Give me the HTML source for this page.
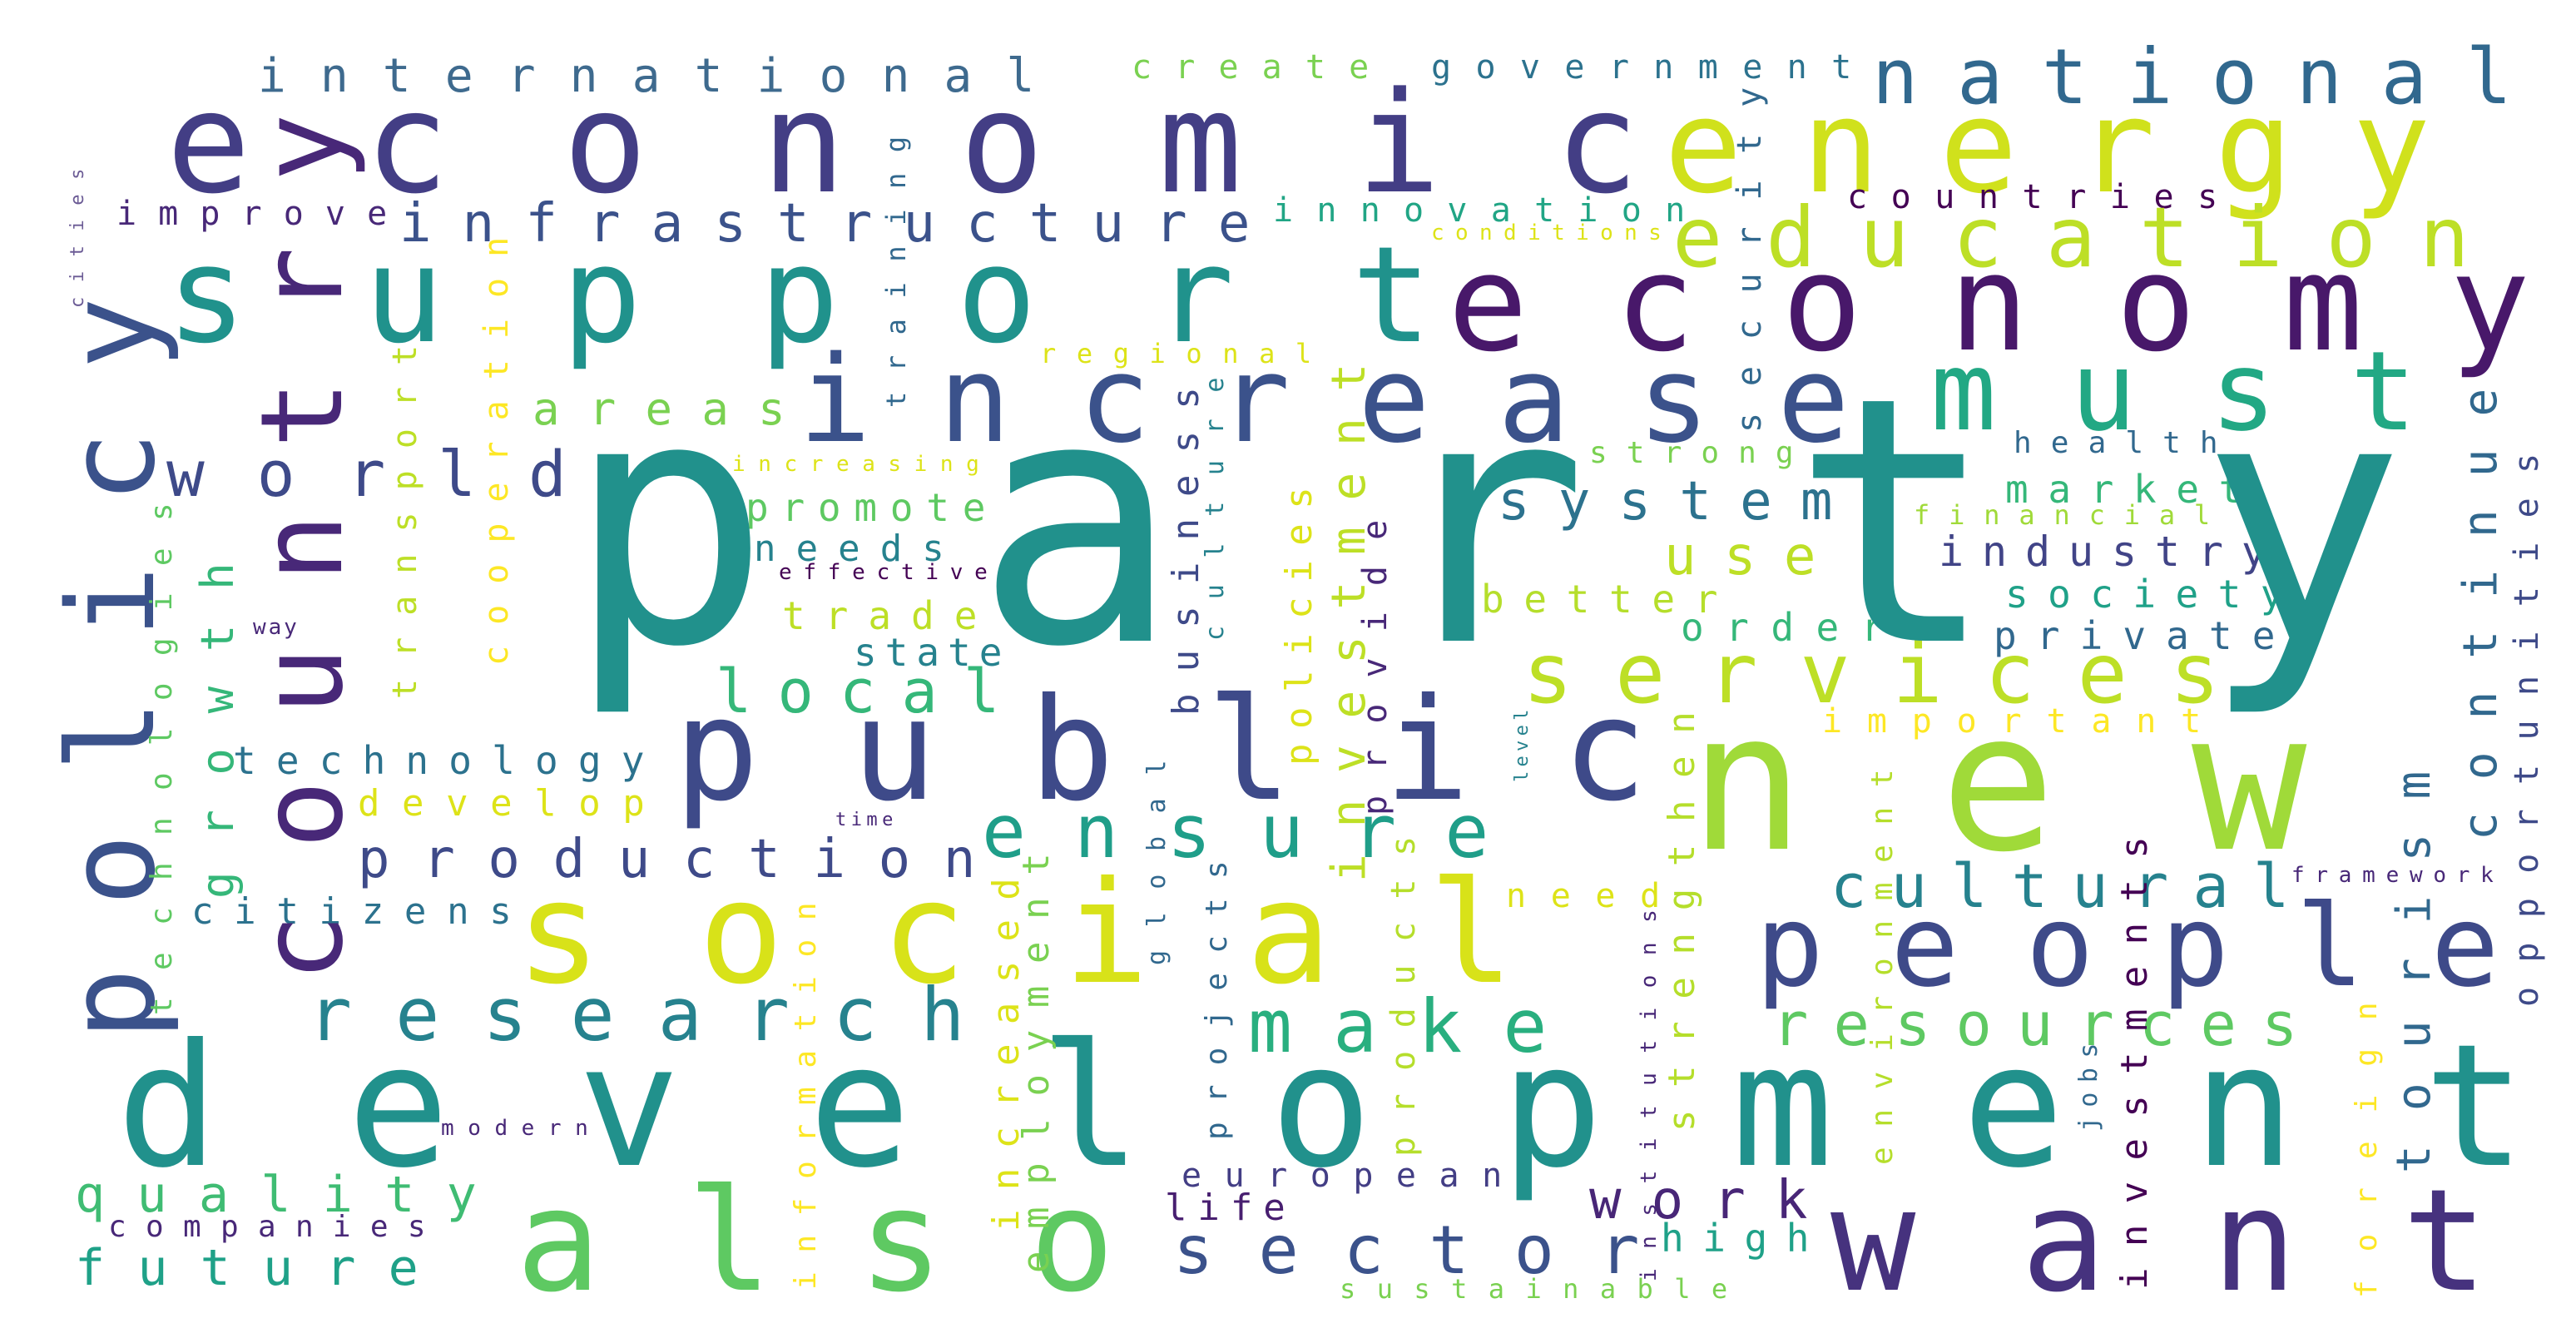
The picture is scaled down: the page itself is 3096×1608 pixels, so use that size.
<!DOCTYPE html>
<html><head><meta charset="utf-8"><style>
html,body{margin:0;padding:0;background:#fff;width:3096px;height:1608px;overflow:hidden}
svg text{font-family:"DejaVu Sans Mono","Liberation Mono",monospace}
</style></head><body>
<svg id="cloud" width="3096" height="1608" viewBox="0 0 1548 804" xmlns="http://www.w3.org/2000/svg">
<rect width="1548" height="804" fill="#fff"/>
</svg>
<script>
// word data
const words=["economic","energy","national","international","create","government","improve","infrastructure","innovation","conditions","countries","support","economy","education","increase","must","areas","regional","world","increasing","strong","health","market","financial","system","industry","promote","needs","effective","use","better","society","trade","way","order","private","state","services","local","important","public","new","technology","develop","time","ensure","production","cultural","framework","citizens","need","social","people","research","make","resources","development","modern","quality","companies","future","also","european","life","sector","work","high","want","sustainable","party",
"policy","country","growth","technologies","cities","transport","cooperation","training","business","culture","policies","investment","provide","products","security","level","strengthen","environment","institutions","investments","jobs","foreign","tourism","continue","opportunities","global","projects","increased","employment","information"];
const weights=[84,78,46,28,20,20,20,32,20,13,20,80,80,50,72,66,27,16,38,13,18,18,23,16,32,25,23,22,13,32,23,23,23,13,23,23,23,50,36,20,85,115,23,22,11,44,32,36,13,22,20,85,68,44,44,36,102,13,30,18,30,85,20,22,40,32,23,85,16,205,
72,68,27,18,11,20,20,16,22,15,22,28,20,20,20,11,22,18,13,22,15,18,28,28,20,15,18,22,22,18];
const colors=["#433e85","#d0e11c","#31688e","#3e6a8e","#7ad151","#2c728e","#482878","#3b528b","#21a585","#dde318","#440154","#20928c","#48186a","#bddf26","#3b528b","#22a884","#7ad151","#dde318","#3e4a89","#dde318","#7ad151","#31688e","#35b779","#a0da39","#2c728e","#414487","#5ec962","#26828e","#440154","#bddf26","#b5de2b","#1fa188","#bddf26","#482878","#35b779","#31688e","#26828e","#bddf26","#35b779","#fde725","#3e4a89","#a0da39","#2c728e","#dde318","#482878","#1f9e89","#3e4a89","#26828e","#482878","#2c728e","#dde318","#d8e219","#3e4a89","#26828e","#29af7f","#5ec962","#21918c","#482878","#3fbc73","#482878","#1fa188","#5ec962","#433e85","#481f70","#3b528b","#482677","#1fa188","#46327e","#7ad151","#21918c",
"#3b528b","#482878","#35b779","#5ec962","#6b5b95","#bddf26","#fde725","#31688e","#3e4a89","#26828e","#dde318","#bddf26","#482878","#b5de2b","#31688e","#26828e","#b5de2b","#b5de2b","#482878","#440154","#31688e","#fde725","#31688e","#31688e","#3e4a89","#31688e","#31688e","#dde318","#7ad151","#fde725"];
// layout: [x, y, visible length, rotated]  (horizontal: left,baseline; vertical: baseline-x, bottom-y)
const layout=[[100,115,895,0],[1000,115,470,0],[1125,62,390,0],[155,55,470,0],[680,47,145,0],[860,47,255,0],[70,135,165,0],[240,145,515,0],[765,133,250,0],[860,144,140,0],[1110,125,225,0],[100,205,770,0],[870,210,660,0],[1005,160,485,0],[480,265,640,0],[1160,258,300,0],[320,255,155,0],[625,218,165,0],[100,298,245,0],[440,283,150,0],[955,278,125,0],[1210,272,125,0],[1205,302,145,0],[1150,315,180,0],[900,312,205,0],[1165,340,200,0],[448,313,147,0],[453,337,117,0],[468,348,127,0],[1000,345,95,0],[890,368,145,0],[1205,365,170,0],[470,378,120,0],[152,381,28,0],[1010,385,125,0],[1198,390,172,0],[513,400,92,0],[915,422,425,0],[430,428,175,0],[1095,440,230,0],[405,480,595,0],[1015,510,385,0],[140,465,250,0],[215,490,175,0],[502,496,36,0],[590,515,310,0],[215,527,375,0],[1100,545,280,0],[1377,530,123,0],[115,555,195,0],[905,545,95,0],[310,590,610,0],[1055,592,455,0],[185,625,400,0],[750,632,185,0],[1065,628,320,0],[70,700,1460,0],[265,682,90,0],[45,728,245,0],[65,743,193,0],[45,772,210,0],[310,775,370,0],[710,713,195,0],[700,733,75,0],[705,765,285,0],[955,732,135,0],[998,752,92,0],[1100,775,405,0],[805,780,235,0],[340,385,1130,0],
[92,625,455,1],[205,590,530,1],[140,540,205,1],[103,610,310,1],[50,185,85,1],[250,420,215,1],[305,400,260,1],[544,245,165,1],[720,430,200,1],[735,385,160,1],[788,460,170,1],[820,530,315,1],[833,490,180,1],[850,695,195,1],[1058,260,210,1],[918,470,45,1],[1018,680,255,1],[1137,700,240,1],[995,770,225,1],[1290,775,275,1],[1260,680,55,1],[1428,780,180,1],[1460,705,245,1],[1500,505,275,1],[1525,605,335,1],[700,580,125,1],[737,685,170,1],[612,740,215,1],[630,765,255,1],[490,775,235,1]];
const svg=document.getElementById('cloud');
const NS="http://www.w3.org/2000/svg";
for(let i=0;i<words.length;i++){
  const L=layout[i];
  const f=weights[i];
  const t=document.createElementNS(NS,'text');
  
  
  t.setAttribute('font-size',f);
  t.setAttribute('fill',colors[i]);
  t.setAttribute('textLength',(L[2]-0.12*f).toFixed(1));
  t.setAttribute('lengthAdjust','spacing');
  if(L[3]){
    t.setAttribute('x',0);t.setAttribute('y',0);
    t.setAttribute('transform','translate('+L[0]+','+L[1]+') rotate(-90)');
  } else {
    t.setAttribute('x',L[0]);t.setAttribute('y',L[1]);
  }
  t.textContent=words[i];
  svg.appendChild(t);
}
</script>
</body></html>
